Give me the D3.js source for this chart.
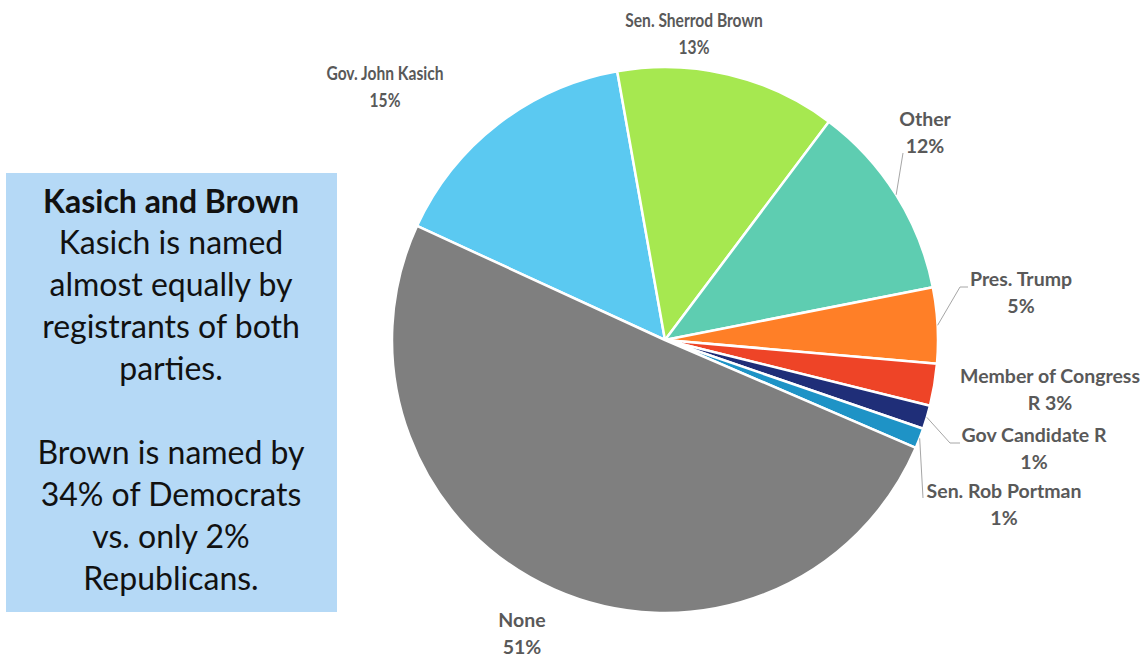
<!DOCTYPE html>
<html>
<head>
<meta charset="utf-8">
<script src="https://cdn.jsdelivr.net/npm/d3@7/dist/d3.min.js"></script>
<style>
  html, body { margin: 0; padding: 0; background: #ffffff; }
  svg { display: block; }
</style>
</head>
<body>
<svg id="chart" width="1146" height="658"></svg>
<script>
// Who respondents name as representing them (share of all registrants)
const categories = ["Gov. John Kasich", "Sen. Sherrod Brown", "Other", "Pres. Trump",
                    "Member of Congress R", "Gov Candidate R", "Sen. Rob Portman", "None"];
const shares = [15.4, 13.1, 11.7, 4.5, 2.5, 1.4, 1.2, 50.6];
const sliceColors = ["#5BC9F1", "#A6E850", "#5ECDB1", "#FF7F27", "#EE4427", "#1F2E78", "#1E93C6", "#7F7F7F"];

const noteTitle = "Kasich and Brown";
const noteLines = ["Kasich is named", "almost equally by", "registrants of both", "parties.", "",
                   "Brown is named by", "34% of Democrats", "vs. only 2%", "Republicans."];

const svg = d3.select("#chart");
const cx = 665, cy = 340, radius = 273;
const deg = Math.PI / 180;

// Side note box
const note = svg.append("g");
note.append("rect")
  .attr("x", 6).attr("y", 173).attr("width", 331).attr("height", 439)
  .attr("fill", "#B5D9F6");
const noteText = note.append("text")
  .attr("text-anchor", "middle")
  .attr("font-family", "Lato, 'Open Sans', sans-serif")
  .attr("font-size", 32)
  .attr("fill", "#111111");
noteText.append("tspan")
  .attr("x", 171).attr("y", 213)
  .attr("font-weight", "bold")
  .text(noteTitle);
noteLines.forEach((line, i) => {
  noteText.append("tspan")
    .attr("x", 171)
    .attr("y", 254 + i * 42)
    .text(line);
});

// Pie
const data = categories.map((c, i) => ({ name: c, value: shares[i], color: sliceColors[i] }));
const pie = d3.pie()
  .sort(null)
  .value(d => d.value)
  .startAngle(-65.3 * deg)
  .endAngle(-65.3 * deg + 2 * Math.PI);
const arcs = pie(data);
const arc = d3.arc().innerRadius(0).outerRadius(radius);

const g = svg.append("g").attr("transform", `translate(${cx},${cy})`);
g.selectAll("path.slice")
  .data(arcs)
  .join("path")
  .attr("class", "slice")
  .attr("d", arc)
  .attr("fill", d => d.data.color)
  .attr("stroke", "#ffffff")
  .attr("stroke-width", 2.5)
  .attr("stroke-linejoin", "round");

// Data label placement (label centre x, first-line baseline y, horizontal squeeze) and optional leader elbows
const labelLayout = {
  "Gov. John Kasich":     { x: 385,  y: 80,  sx: 0.8, lines: ["Gov. John Kasich"] },
  "Sen. Sherrod Brown":   { x: 694,  y: 27,  sx: 0.8, lines: ["Sen. Sherrod Brown"] },
  "Other":                { x: 925,  y: 126, sx: 1, lines: ["Other"], leader: [[903, 153]] },
  "Pres. Trump":          { x: 1021, y: 286, sx: 1, lines: ["Pres. Trump"], leader: [[960, 287], [968, 287]] },
  "Member of Congress R": { x: 1050, y: 383, sx: 1, lines: ["Member of Congress", "R"] },
  "Gov Candidate R":      { x: 1034, y: 442, sx: 1, lines: ["Gov Candidate R"], leader: [[950, 443], [960, 443]] },
  "Sen. Rob Portman":     { x: 1004, y: 498, sx: 1, lines: ["Sen. Rob Portman"], leader: [[923, 498]] },
  "None":                 { x: 522,  y: 627, sx: 1, lines: ["None"] }
};

const pct = v => Math.round(v) + "%";

// Leader lines start on the slice edge at its middle angle
const leaders = svg.append("g")
  .attr("fill", "none")
  .attr("stroke", "#A6A6A6")
  .attr("stroke-width", 1);
arcs.forEach(a => {
  const lay = labelLayout[a.data.name];
  if (!lay.leader) return;
  const mid = (a.startAngle + a.endAngle) / 2;
  const p0 = [cx + radius * Math.sin(mid), cy - radius * Math.cos(mid)];
  leaders.append("path").attr("d", d3.line()([p0, ...lay.leader]));
});

const labels = svg.append("g")
  .attr("font-family", "Lato, 'Open Sans', sans-serif")
  .attr("font-weight", "bold")
  .attr("font-size", 19.5)
  .attr("fill", "#595959")
  .attr("text-anchor", "middle");
arcs.forEach(a => {
  const lay = labelLayout[a.data.name];
  const t = labels.append("text")
    .attr("transform", `translate(${lay.x},0) scale(${lay.sx},1)`);
  const lines = lay.lines.slice();
  if (lines.length === 2) {
    lines[1] = lines[1] + " " + pct(a.data.value);
  } else {
    lines.push(pct(a.data.value));
  }
  lines.forEach((ln, i) => {
    t.append("tspan").attr("x", 0).attr("y", lay.y + i * 27).text(ln);
  });
});
</script>
</body>
</html>
